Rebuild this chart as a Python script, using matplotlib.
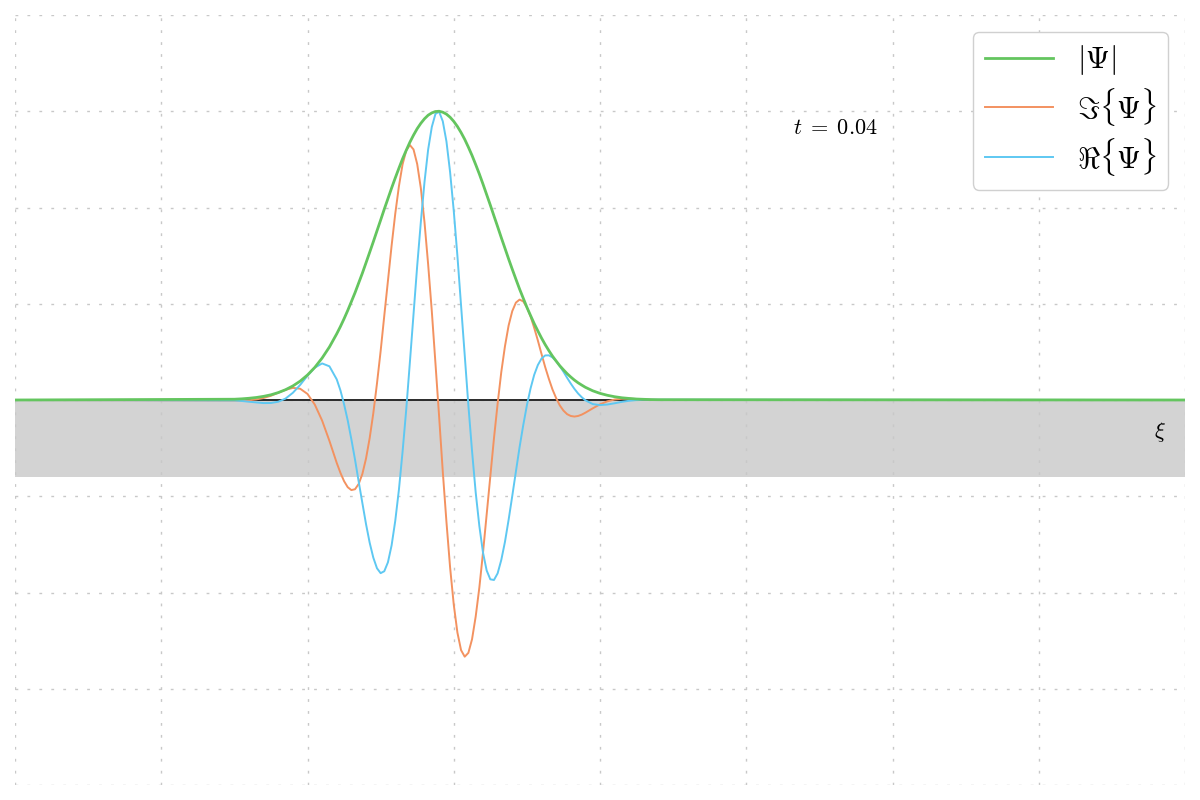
import matplotlib
matplotlib.use("Agg")
import matplotlib.pyplot as plt
import numpy as np

plt.rcParams['mathtext.fontset'] = 'cm'

# position along xi
xi = [-8.0, -5.0, -4.9, -4.8, -4.7, -4.6, -4.5, -4.4, -4.3, -4.2, -4.1, -4.0, -3.9, -3.8, -3.7, -3.6,
      -3.55, -3.5, -3.45, -3.4, -3.35, -3.3, -3.25, -3.2, -3.15, -3.1, -3.05, -3.0, -2.95, -2.9,
      -2.85, -2.8, -2.75, -2.7, -2.65, -2.6, -2.55, -2.5, -2.45, -2.4, -2.35, -2.3, -2.25, -2.2,
      -2.15, -2.1, -2.05, -2.0, -1.95, -1.9, -1.85, -1.8, -1.75, -1.7, -1.65, -1.6, -1.55, -1.5,
      -1.45, -1.4, -1.35, -1.3, -1.25, -1.2, -1.15, -1.1, -1.05, -1.0, -0.95, -0.9, -0.85, -0.8,
      -0.75, -0.7, -0.65, -0.6, -0.55, -0.5, -0.45, -0.4, -0.35, -0.3, -0.25, -0.2, -0.1, 0.0,
      0.1, 0.2, 0.3, 0.4, 0.5, 0.6, 0.7, 0.8, 8.0]

psi_abs = [0, .008, .012, .018, .026, .038, .054, .077, .107, .146, .196, .260, .339, .436, .551, .688,
           .763, .844, .930, 1.022, 1.115, 1.216, 1.317, 1.425, 1.534, 1.644, 1.757, 1.869, 1.983, 2.092,
           2.202, 2.307, 2.408, 2.506, 2.594, 2.678, 2.752, 2.819, 2.875, 2.922, 2.959, 2.983, 2.997, 3.000,
           2.990, 2.970, 2.938, 2.895, 2.842, 2.779, 2.708, 2.627, 2.541, 2.446, 2.348, 2.243, 2.134, 2.025,
           1.912, 1.801, 1.687, 1.577, 1.466, 1.359, 1.255, 1.153, 1.058, .964, .878, .794, .718, .644,
           .576, .514, .456, .405, .356, .314, .274, .239, .207, .179, .155, .132, .096, .069,
           .049, .034, .023, .016, .010, .007, .004, .003, 0]

psi_im = [0, -.006, -.006, -.003, .006, .021, .044, .075, .106, .126, .117, .063, -.048, -.214, -.425, -.654,
          -.756, -.843, -.906, -.936, -.927, -.872, -.769, -.609, -.397, -.137, .171, .507, .876, 1.238,
          1.603, 1.935, 2.220, 2.448, 2.592, 2.649, 2.603, 2.452, 2.201, 1.847, 1.407, .922, .379, -.173,
          -.744, -1.265, -1.739, -2.125, -2.416, -2.599, -2.667, -2.627, -2.486, -2.250, -1.949, -1.586, -1.190, -.794,
          -.398, -.038, .290, .557, .773, .923, 1.012, 1.043, 1.025, .962, .870, .750, .619, .479,
          .343, .221, .110, .020, -.056, -.110, -.147, -.166, -.172, -.166, -.152, -.132, -.087, -.045,
          -.014, .005, .013, .014, .010, .006, .003, .001, 0]

psi_re = [0, -.005, -.010, -.018, -.025, -.032, -.031, -.018, .015, .075, .157, .252, .336, .380, .350, .214,
          .101, -.044, -.212, -.409, -.620, -.848, -1.069, -1.288, -1.482, -1.638, -1.748, -1.799, -1.779, -1.686,
          -1.511, -1.256, -.933, -.538, -.101, .391, .892, 1.393, 1.850, 2.265, 2.603, 2.837, 2.973, 2.995,
          2.896, 2.687, 2.368, 1.966, 1.498, .982, .466, -.055, -.529, -.960, -1.309, -1.586, -1.771, -1.863,
          -1.870, -1.801, -1.662, -1.475, -1.246, -.998, -.743, -.491, -.263, -.056, .119, .261, .363, .430,
          .463, .464, .443, .405, .352, .294, .231, .171, .116, .068, .029, -.003, -.042, -.053,
          -.047, -.034, -.019, -.008, -.001, .003, .003, .003, 0]

labels = [r'$|\Psi|$', r'$\Im\{\Psi\}$', r'$\Re\{\Psi\}$']
time_label = r'$t\;=\;0.04$'
band_depth = -0.8

c_green = '#64c55f'
c_orange = '#f39260'
c_blue = '#5ec8f2'

fig = plt.figure(figsize=(12, 8), dpi=100)
ax = fig.add_axes([15/1200, 15/800, 1170/1200, 770/800])
ax.set_xlim(-8, 8)
ax.set_ylim(-4, 4)
ax.set_xticks(np.arange(-8, 8.1, 2))
ax.set_yticks(np.arange(-4, 4.1, 1))
ax.tick_params(length=0, labelbottom=False, labelleft=False)
for s in ax.spines.values():
    s.set_visible(False)
ax.grid(True, color='#c8c8c8', linewidth=1.0, linestyle=(0, (2.0, 6.6)))

ax.axhspan(band_depth, 0, color='#d3d3d3', zorder=0.5, linewidth=0)
ax.axhline(0, color='#2a2a2a', linewidth=1.4, zorder=1.8)

l_im, = ax.plot(xi, psi_im, color=c_orange, linewidth=1.4, zorder=2)
l_re, = ax.plot(xi, psi_re, color=c_blue, linewidth=1.4, zorder=2.1)
l_abs, = ax.plot(xi, psi_abs, color=c_green, linewidth=2.0, zorder=3)

ax.text(3.214, 2.83, time_label, fontsize=16, ha='center', va='center')
ax.text(7.66, -0.33, r'$\xi$', fontsize=16, ha='center', va='center')

leg = ax.legend([l_abs, l_im, l_re], labels, loc='upper right', fontsize=22,
                handlelength=2.22, handletextpad=0.78, labelspacing=0.27,
                borderaxespad=0.55, borderpad=0.38, framealpha=1.0,
                edgecolor='#d0d0d0', fancybox=True)
leg.get_frame().set_linewidth(1.0)

fig.savefig('out.png', dpi=100)
